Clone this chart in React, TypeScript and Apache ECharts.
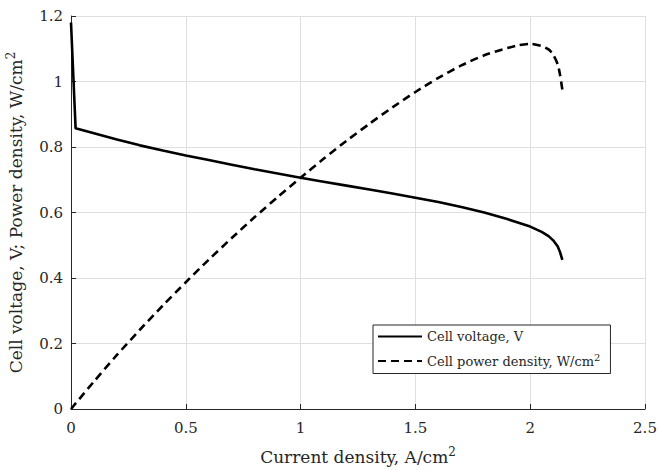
import React, { useEffect, useRef } from "react";
import * as echarts from "echarts";

const voltageX = [0, 0.02, 0.1, 0.2, 0.3, 0.4, 0.5, 0.6, 0.7, 0.8, 0.9, 1.0, 1.1, 1.2, 1.3, 1.4, 1.5, 1.6, 1.7, 1.8, 1.9, 2.0, 2.05, 2.08, 2.1, 2.12, 2.13, 2.14];
const voltageY = [1.18, 0.857, 0.842, 0.823, 0.805, 0.789, 0.774, 0.76, 0.746, 0.732, 0.719, 0.706, 0.694, 0.682, 0.67, 0.658, 0.645, 0.632, 0.617, 0.6, 0.58, 0.557, 0.541, 0.528, 0.515, 0.496, 0.479, 0.455];

const powerX = [0, 0.02, 0.1, 0.2, 0.3, 0.4, 0.5, 0.6, 0.7, 0.8, 0.9, 1.0, 1.1, 1.2, 1.3, 1.4, 1.5, 1.6, 1.7, 1.8, 1.9, 1.95, 2.0, 2.05, 2.08, 2.1, 2.12, 2.13, 2.14];
const powerY = [0, 0.017, 0.084, 0.165, 0.242, 0.316, 0.387, 0.456, 0.522, 0.586, 0.647, 0.706, 0.764, 0.819, 0.871, 0.921, 0.968, 1.011, 1.049, 1.08, 1.102, 1.111, 1.115, 1.108, 1.098, 1.082, 1.052, 1.02, 0.975];

const xTicks = { min: 0, max: 2.5, interval: 0.5 };
const yTicks = { min: 0, max: 1.2, interval: 0.2 };

const seriesNames = ["Cell voltage, V", "Cell power density, W/cm2"];

const FONT = "DejaVu Serif";

export default function App() {
  const ref = useRef<HTMLDivElement>(null);
  useEffect(() => {
    if (!ref.current) return;
    const chart = echarts.init(ref.current, null, { renderer: "svg" });
    const axisColor = "#262626";
    const gridColor = "#dfdfdf";
    const nameRich = {
      n: { fontFamily: FONT, fontSize: 17, color: "#262626" },
      s: { fontFamily: FONT, fontSize: 12, color: "#262626", verticalAlign: "bottom", padding: [0, 0, 10, 0] },
    };
    chart.setOption({
      animation: false,
      backgroundColor: "#ffffff",
      grid: { left: 71, right: 13, top: 16, bottom: 61, outerBoundsMode: "none", containLabel: false },
      xAxis: {
        type: "value",
        min: xTicks.min,
        max: xTicks.max,
        interval: xTicks.interval,
        name: "{n|Current density, A/cm}{s|2}",
        nameLocation: "middle",
        nameGap: 37,
        nameTextStyle: { rich: nameRich },
        axisLine: { show: true, lineStyle: { color: axisColor, width: 1 } },
        axisTick: { show: true, inside: true, length: 5, lineStyle: { color: axisColor } },
        axisLabel: { fontFamily: FONT, fontSize: 15, color: "#262626", margin: 11, formatter: (v: number) => String(v) },
        splitLine: { show: true, lineStyle: { color: gridColor, width: 1 } },
      },
      yAxis: {
        type: "value",
        min: yTicks.min,
        max: yTicks.max,
        interval: yTicks.interval,
        name: "{n|Cell voltage, V; Power density, W/cm}{s|2}",
        nameLocation: "middle",
        nameGap: 44,
        nameRotate: 90,
        nameTextStyle: { rich: nameRich },
        axisLine: { show: true, lineStyle: { color: axisColor, width: 1 } },
        axisTick: { show: true, inside: true, length: 5, lineStyle: { color: axisColor } },
        axisLabel: { fontFamily: FONT, fontSize: 15, color: "#262626", margin: 8, formatter: (v: number) => String(Math.round(v * 10) / 10) },
        splitLine: { show: true, lineStyle: { color: gridColor, width: 1 } },
      },
      legend: {
        show: true,
        orient: "vertical",
        left: 373,
        top: 325,
        padding: [5, 10, 6, 4],
        itemGap: 9,
        itemWidth: 44,
        itemHeight: 14,
        borderColor: "#262626",
        borderWidth: 1,
        backgroundColor: "#ffffff",
        itemStyle: { opacity: 0 },
        data: seriesNames,
        formatter: (name: string) =>
          name.endsWith("2") ? "{n|" + name.slice(0, -1) + "}{s|2}" : "{n|" + name + "}",
        textStyle: {
          rich: {
            n: { fontFamily: FONT, fontSize: 13, color: "#262626" },
            s: { fontFamily: FONT, fontSize: 10, color: "#262626", verticalAlign: "bottom", padding: [0, 0, 8, 0] },
          },
        },
      },
      series: [
        {
          name: seriesNames[0],
          type: "line",
          data: voltageX.map((x, i) => [x, voltageY[i]]),
          symbol: "none",
          showSymbol: false,
          lineStyle: { color: "#000000", width: 2.6, type: "solid" },
          itemStyle: { color: "#000000" },
          z: 3,
        },
        {
          name: seriesNames[1],
          type: "line",
          data: powerX.map((x, i) => [x, powerY[i]]),
          symbol: "none",
          showSymbol: false,
          smooth: 0.25,
          lineStyle: { color: "#000000", width: 2.6, type: [8, 5] },
          itemStyle: { color: "#000000" },
          z: 3,
        },
      ],
    });
    return () => chart.dispose();
  }, []);
  return <div ref={ref} style={{ position: "fixed", left: 0, top: 0, width: 658, height: 470 }} />;
}
